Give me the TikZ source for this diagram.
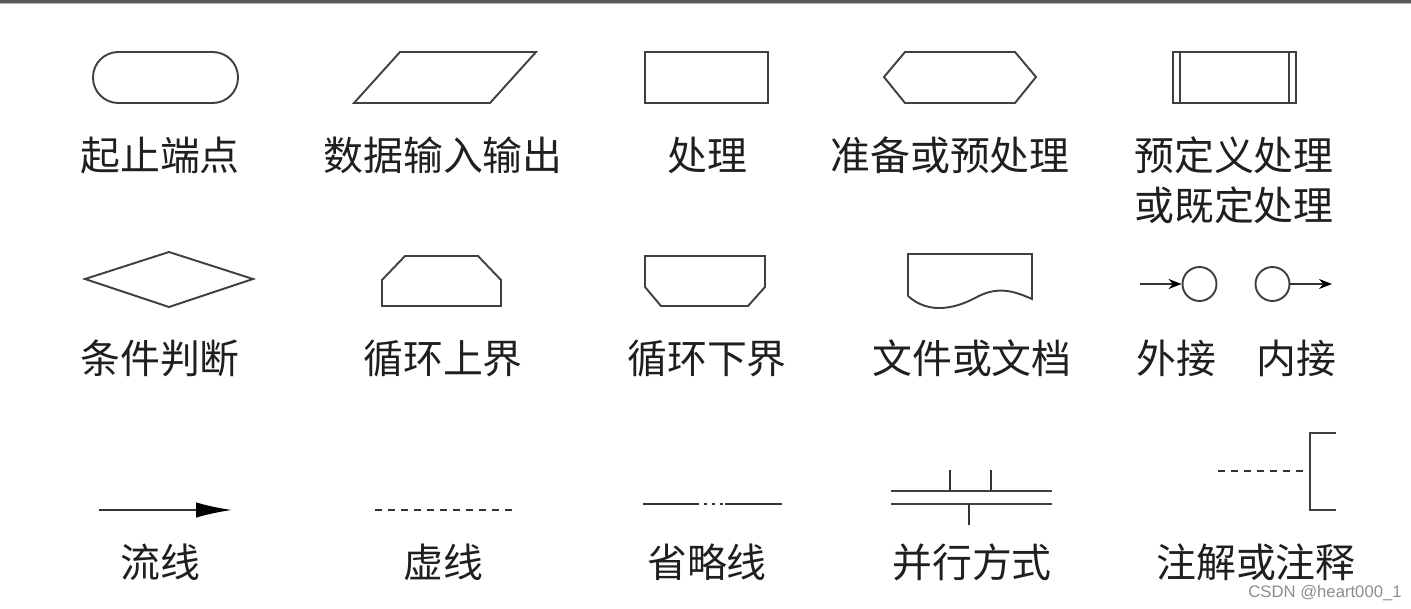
\documentclass[tikz,border=0pt]{standalone}
\usepackage{fontspec}
\newfontfamily\cjk{Noto Sans CJK SC}
\newfontfamily\markfont{Liberation Sans}
\usetikzlibrary{arrows.meta}

\tikzset{
  symbol/.style={draw=black!75, line width=1.1pt},
  thinline/.style={draw=black!80, line width=0.8pt},
  dashline/.style={thinline, dash pattern=on 1.4mm off 1.2mm},
  connector/.style={symbol, circle, inner sep=0pt, minimum size=0.68cm},
  caption/.style={font=\cjk\fontsize{22.7pt}{28.5pt}\selectfont, text=black!88, inner sep=0pt},
}

\begin{document}
\begin{tikzpicture}[x=0.02cm, y=-0.02cm, >=Latex]
  \useasboundingbox (0,0) rectangle (1411,609);
  % frame edge at the top
  \fill[black!65] (0,0) rectangle (1411,2.5);
  \draw[black!30, line width=0.5pt] (0,3.5) -- (1411,3.5);

  % row 1
  \draw[symbol, rounded corners=14.4pt] (93,52) rectangle (238,103);
  \draw[symbol] (354,103) -- (400,52) -- (536,52) -- (490,103) -- cycle;
  \draw[symbol] (645,52) rectangle (768,103);
  \draw[symbol] (884,77) -- (905,52) -- (1015,52) -- (1036,77) -- (1015,103) -- (905,103) -- cycle;
  \draw[symbol] (1173,52) rectangle (1296,103);
  \draw[symbol] (1180,52) -- (1180,103);
  \draw[symbol] (1289,52) -- (1289,103);

  \node[caption] (terminal) at (160,155) {起止端点};
  \node[caption] (inout) at (443,155) {数据输入输出};
  \node[caption] (process) at (707,155) {处理};
  \node[caption] (prepare) at (950,155) {准备或预处理};
  \node[caption, align=left] (predef) at (1234,180) {预定义处理\\或既定处理};

  % row 2
  \draw[symbol] (85,279) -- (169,252) -- (253,279) -- (169,307) -- cycle;
  \draw[symbol] (382,306) -- (382,280) -- (405,256) -- (478,256) -- (501,280) -- (501,306) -- cycle;
  \draw[symbol] (645,256) -- (765,256) -- (765,287) -- (748,306) -- (661,306) -- (645,287) -- cycle;
  \draw[symbol] (908,296) -- (908,254) -- (1032,254) -- (1032,299)
    .. controls (1010,289) and (995,287) .. (975,298)
    .. controls (958,307) and (930,316) .. (908,296);

  \node[connector] (outer) at (1199.5,284) {};
  \node[connector] (inner) at (1272.5,284) {};
  \coordinate (outerin) at (1140,284);
  \coordinate (innerout) at (1332,284);
  \draw[thinline, -{Stealth[length=2.6mm, width=2mm, black]}] (outerin) -- (outer);
  \draw[thinline, -{Stealth[length=2.6mm, width=2mm, black]}] (inner) -- (innerout);

  \node[caption] (decision) at (160,358) {条件判断};
  \node[caption] (loopup) at (443,358) {循环上界};
  \node[caption] (looplow) at (707,358) {循环下界};
  \node[caption] (document) at (972,358) {文件或文档};
  \node[caption] (offpage) at (1176,358) {外接};
  \node[caption] (onpage) at (1296,358) {内接};

  % row 3
  \coordinate (flowa) at (99,510);
  \coordinate (flowb) at (232,510);
  \draw[thinline, line width=1.1pt, -{Latex[length=7.2mm, width=3.1mm, black]}] (flowa) -- (flowb);

  \draw[dashline] (375,510) -- (517,510);

  \draw[thinline, line width=1.2pt] (643,504) -- (699,504);
  \draw[thinline, line width=1.2pt, dash pattern=on 0.65mm off 0.95mm] (704,504) -- (723,504);
  \draw[thinline, line width=1.2pt] (725,504) -- (782,504);

  \draw[symbol] (891,491) -- (1052,491);
  \draw[symbol] (891,504) -- (1052,504);
  \draw[thinline] (950,491) -- (950,470);
  \draw[thinline] (991,491) -- (991,470);
  \draw[thinline] (969,504) -- (969,525);

  \draw[dashline] (1218,471) -- (1308,471);
  \draw[symbol] (1336,433) -- (1310,433) -- (1310,510) -- (1336,510);

  \node[caption] (flow) at (160,562) {流线};
  \node[caption] (dashed) at (443,562) {虚线};
  \node[caption] (omit) at (707,562) {省略线};
  \node[caption] (parallel) at (972,562) {并行方式};
  \node[caption] (comment) at (1256,562) {注解或注释};

  \node[font=\markfont\fontsize{9.5pt}{11pt}\selectfont, text=black!45, inner sep=0pt] (mark) at (1325,593) {CSDN @heart000\_1};
\end{tikzpicture}
\end{document}
